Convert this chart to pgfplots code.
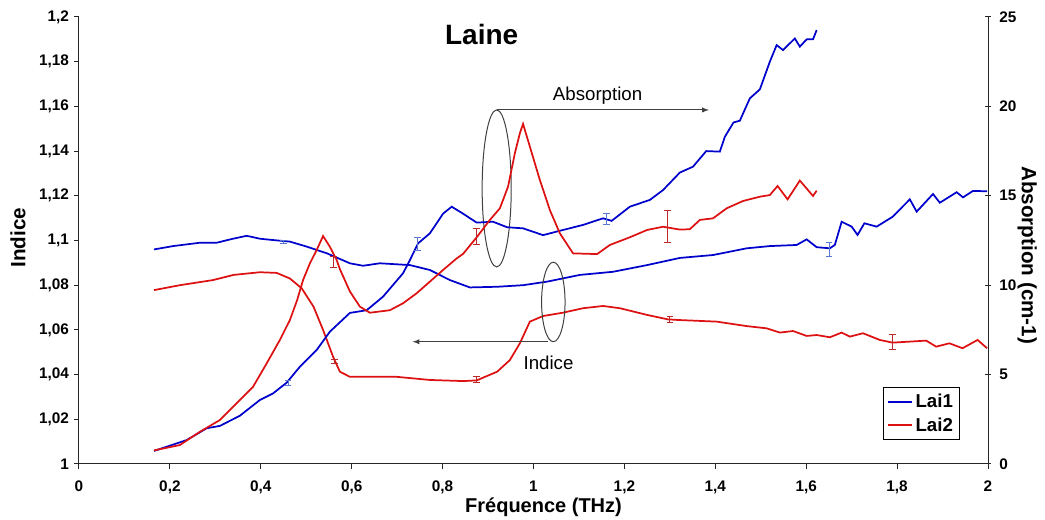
\documentclass[border=0pt]{standalone}
\usepackage{fontspec}
\setmainfont{Liberation Sans}
\usepackage{pgfplots}
\pgfplotsset{compat=1.18}
\definecolor{laiblue}{RGB}{0,0,204}
\definecolor{laired}{RGB}{221,17,17}
\definecolor{errblue}{RGB}{90,120,210}
\definecolor{errred}{RGB}{190,40,40}

\begin{document}
\begin{tikzpicture}
\useasboundingbox (-59.25pt,-42pt) rectangle (724.5pt,348pt);
\pgfplotsset{
  every axis/.append style={
    scale only axis, width=681.75pt, height=335.25pt,
    xmin=0, xmax=2,
    unbounded coords=jump,
    /pgf/number format/use comma,
    /pgf/number format/assume math mode=true,
    tick label style={font=\fontsize{11.5}{13}\selectfont\bfseries},
    major tick style={line width=0.75pt, black!85},
    major tick length=4pt,
  },
  % barres d'erreur : segment vertical + petites barres aux extremites
  errb/.style={forget plot, #1, line width=0.6pt, mark=-, mark size=2.5pt,
    mark options={solid, line width=0.6pt}},
}
% Indice (axe gauche)
\begin{axis}[
  axis x line=bottom, axis y line=left,
  axis line style={-, line width=0.75pt, black!85},
  tick align=outside,
  ymin=1, ymax=1.2,
  ytick={1,1.02,1.04,1.06,1.08,1.1,1.12,1.14,1.16,1.18,1.2},
  xtick={0,0.2,0.4,0.6,0.8,1,1.2,1.4,1.6,1.8,2},
  xticklabel style={yshift=-5pt},
  xlabel={Fréquence (THz)},
  ylabel={Indice},
  xlabel style={at={(axis description cs:0.511,-0.0962)}, anchor=center,
    font=\fontsize{15}{17}\selectfont\bfseries},
  ylabel style={at={(axis description cs:-0.0671,0.506)}, anchor=center,
    font=\fontsize{15.5}{17}\selectfont\bfseries},
  legend style={at={(0.969,0.0537)}, anchor=south east,
    font=\fontsize{14}{16}\selectfont\bfseries, inner xsep=3pt, inner ysep=3pt,
    row sep=2pt},
  legend cell align=left,
  legend image code/.code={\draw[#1] (0pt,0pt) -- (18pt,0pt);},
]
\addplot[laiblue, line width=1.3pt] coordinates {
(0.165,1.096) (0.207,1.0975) (0.266,1.099) (0.303,1.099) (0.339,1.1008)
(0.369,1.1021) (0.398,1.1008) (0.427,1.1002) (0.464,1.0995) (0.502,1.0972)
(0.545,1.0943) (0.596,1.0898) (0.625,1.0887) (0.662,1.0898) (0.728,1.089)
(0.772,1.0868) (0.816,1.0823) (0.86,1.079) (0.92,1.0793) (0.977,1.080)
(1.03,1.0816) (1.102,1.0846) (1.175,1.086) (1.25,1.089) (1.322,1.0922)
(1.395,1.0935) (1.469,1.0965) (1.52,1.0975) (1.579,1.098) (1.601,1.1005)
(1.623,1.097) (1.652,1.0965) (1.663,1.098) (1.678,1.1084) (1.70,1.1062)
(1.713,1.1025) (1.728,1.1077) (1.755,1.1062) (1.79,1.1106) (1.828,1.1184)
(1.843,1.1129) (1.879,1.1208) (1.894,1.1169) (1.931,1.1216) (1.945,1.1193)
(1.967,1.1222) (1.998,1.122)
};
\addlegendentry{Lai1}
\addplot[laired, line width=1.3pt] coordinates {
(0.165,1.0778) (0.222,1.080) (0.295,1.0823) (0.34,1.0846) (0.398,1.0858)
(0.435,1.0855) (0.464,1.083) (0.49,1.0786) (0.516,1.0704) (0.537,1.060)
(0.559,1.048) (0.574,1.0413) (0.596,1.039) (0.625,1.039) (0.699,1.039)
(0.772,1.0376) (0.845,1.0371) (0.875,1.0374) (0.92,1.0413) (0.948,1.0465)
(0.97,1.054) (0.992,1.0637) (1.021,1.0662) (1.065,1.0677) (1.109,1.0697)
(1.153,1.0707) (1.19,1.0697) (1.25,1.0667) (1.296,1.0647) (1.322,1.0644)
(1.403,1.0637) (1.469,1.0617) (1.513,1.0607) (1.542,1.0588) (1.571,1.0595)
(1.601,1.0573) (1.623,1.0577) (1.652,1.0567) (1.678,1.0588) (1.696,1.057)
(1.725,1.0585) (1.762,1.0555) (1.79,1.0543) (1.864,1.0552) (1.886,1.0525)
(1.915,1.054) (1.944,1.0518) (1.977,1.0555) (1.998,1.0518)
};
\addlegendentry{Lai2}
% barres d'erreur (indice)
\addplot[errb=errblue] coordinates {
(0.45,1.0988) (0.45,1.1002) (0.45,nan) (1.65,1.0928) (1.65,1.099)};
\addplot[errb=errred] coordinates {
(0.562,1.045) (0.562,1.0466) (0.562,nan) (0.875,1.0364) (0.875,1.039) (0.875,nan)
(1.3,1.0635) (1.3,1.0659) (1.3,nan) (1.79,1.0512) (1.79,1.0578)};
% annotations
\node[font=\fontsize{21}{24}\selectfont\bfseries] at (axis cs:0.886,1.192) {Laine};
\draw[black!75, line width=0.75pt] (axis cs:0.919,1.1233) ellipse [x radius=10.9pt, y radius=58.9pt];
\draw[black!75, line width=0.75pt, -latex] (axis cs:0.92,1.1584) -- (axis cs:1.386,1.1584);
\node[font=\fontsize{14}{16}\selectfont] at (axis cs:1.141,1.1647) {Absorption};
\draw[black!75, line width=0.75pt] (axis cs:1.0436,1.0725) ellipse [x radius=8.8pt, y radius=29.8pt];
\draw[black!75, line width=0.75pt, -latex] (axis cs:1.032,1.0547) -- (axis cs:0.734,1.0547);
\node[font=\fontsize{14}{16}\selectfont] at (axis cs:1.033,1.0452) {Indice};
\end{axis}

% Absorption (axe droit)
\begin{axis}[
  axis y line=right, axis x line=none,
  axis line style={-, line width=0.75pt, black!85},
  tick align=center,
  ymin=0, ymax=25,
  ytick={0,5,10,15,20,25},
  yticklabel style={xshift=3pt},
  ylabel={Absorption (cm-1)},
  ylabel style={at={(axis description cs:1.043,0.467)}, anchor=center, rotate=180,
    font=\fontsize{15.5}{17}\selectfont\bfseries},
]
\addplot[laiblue, line width=1.3pt] coordinates {
(0.165,0.73) (0.237,1.34) (0.281,2.0) (0.31,2.13) (0.354,2.7) (0.398,3.58)
(0.427,3.95) (0.457,4.55) (0.486,5.44) (0.523,6.38) (0.552,7.4) (0.596,8.45)
(0.633,8.6) (0.669,9.36) (0.713,10.67) (0.728,11.4) (0.746,12.34) (0.772,12.9)
(0.801,14.0) (0.82,14.39) (0.845,14.0) (0.875,13.5) (0.911,13.55) (0.942,13.24)
(0.977,13.18) (1.021,12.8) (1.065,13.09) (1.109,13.37) (1.153,13.74) (1.172,13.6)
(1.212,14.39) (1.256,14.77) (1.285,15.32) (1.322,16.3) (1.351,16.63) (1.38,17.5)
(1.41,17.47) (1.421,18.3) (1.44,19.1) (1.454,19.2) (1.476,20.45) (1.498,20.95)
(1.52,22.5) (1.535,23.43) (1.549,23.15) (1.575,23.8) (1.586,23.34) (1.601,23.75)
(1.615,23.75) (1.623,24.27)
};
\addplot[laired, line width=1.3pt] coordinates {
(0.165,0.76) (0.222,1.06) (0.266,1.8) (0.31,2.46) (0.354,3.58) (0.383,4.32)
(0.413,5.63) (0.442,6.94) (0.464,8.05) (0.48,9.17) (0.493,10.29) (0.508,11.22)
(0.523,11.97) (0.537,12.75) (0.552,12.15) (0.567,11.4) (0.574,10.9) (0.596,9.65)
(0.618,8.8) (0.64,8.46) (0.684,8.6) (0.713,8.99) (0.743,9.55) (0.772,10.2)
(0.801,10.85) (0.831,11.5) (0.845,11.75) (0.875,12.68) (0.904,13.65) (0.926,14.3)
(0.944,15.51) (0.959,17.38) (0.97,18.5) (0.977,19.02) (0.992,17.75) (1.014,15.88)
(1.036,14.2) (1.058,12.9) (1.087,11.78) (1.14,11.74) (1.168,12.25) (1.212,12.68)
(1.25,13.09) (1.285,13.27) (1.322,13.11) (1.344,13.13) (1.366,13.65) (1.395,13.74)
(1.425,14.3) (1.461,14.71) (1.498,14.95) (1.52,15.04) (1.537,15.55) (1.559,14.8)
(1.586,15.85) (1.615,14.99) (1.623,15.29)
};
% barres d'erreur (absorption)
\addplot[errb=errblue] coordinates {
(0.46,4.4) (0.46,4.7) (0.46,nan) (0.745,11.95) (0.745,12.65) (0.745,nan)
(1.16,13.4) (1.16,14.0)};
\addplot[errb=errred] coordinates {
(0.56,11.0) (0.56,11.6) (0.56,nan) (0.875,12.3) (0.875,13.2) (0.875,nan)
(1.295,12.37) (1.295,14.17)};
\end{axis}
\end{tikzpicture}
\end{document}
